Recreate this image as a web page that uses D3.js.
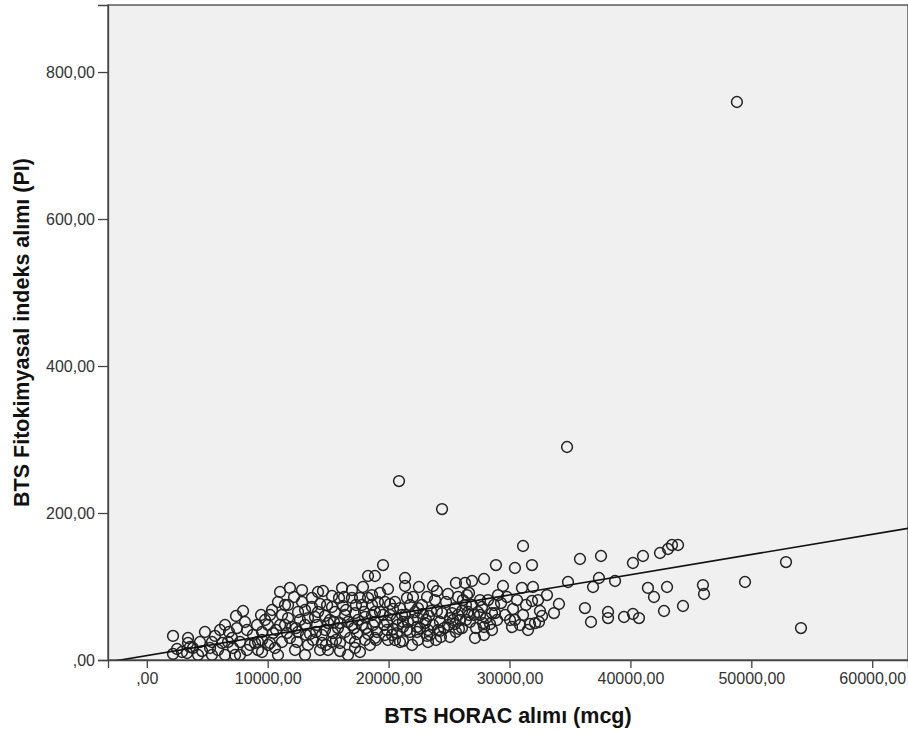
<!DOCTYPE html>
<html>
<head>
<meta charset="utf-8">
<script src="https://cdn.jsdelivr.net/npm/d3@7"></script>
<style>
  html, body { margin: 0; padding: 0; background: #ffffff; }
  svg { display: block; }
  text { font-family: Arial, "Liberation Sans", sans-serif; }
</style>
</head>
<body>
<svg id="chart" width="908" height="733"></svg>
<script>
// BTS HORAC intake (mcg) per participant
const horac = [
  2170, 2500, 2170, 2910, 3410, 3410, 3330, 3570, 3820, 4400,
  4570, 5230, 5390, 5890, 6060, 6220, 6470, 6720, 6800, 7130,
  7460, 7380, 7960, 7710, 7710, 8290, 8290, 8780, 8950, 9120,
  9450, 9530, 9530, 9200, 10020, 10190, 10440, 10600, 10850, 11020,
  11180, 11020, 11180, 11600, 11680, 11840, 12010, 12180, 12420, 12510,
  12510, 13090, 13090, 13330, 13500, 13660, 13660, 13910, 14080, 14330,
  14490, 14490, 14570, 14740, 14910, 14990, 14990, 15320, 15320, 15400,
  15570, 15900, 15980, 15980, 15980, 16310, 16390, 16390, 16970, 16970,
  16970, 17220, 17220, 17220, 17390, 17630, 17800, 17880, 18050, 18050,
  18300, 18300, 18300, 18870, 18630, 19540, 19290, 18630, 18630, 18870,
  18870, 19040, 18870, 19540, 19700, 19950, 20120, 20360, 19870, 19870,
  19950, 20360, 20530, 20690, 20690, 20940, 20860, 21360, 21360, 21520,
  21770, 21190, 21190, 21520, 21190, 22020, 22020, 22430, 22350, 22350,
  22430, 22510, 22840, 23180, 23010, 23260, 23180, 23340, 23510, 23420,
  23670, 24000, 24000, 24250, 24250, 24330, 24420, 24420, 24910, 25080,
  25240, 25330, 25490, 25570, 25740, 25820, 25910, 26070, 26070, 26320,
  26480, 26650, 26570, 26650, 26730, 26900, 27150, 27560, 27720, 27810,
  27890, 27890, 28550, 28390, 28880, 28800, 29050, 29300, 29460, 29790,
  30290, 30210, 30450, 30450, 30620, 31030, 31120, 31120, 31700, 31860,
  31860, 31940, 32110, 32440, 32520, 33100, 33680, 34090, 34760, 34840,
  35830, 36240, 36740, 36910, 37400, 37570, 38150, 38150, 38730, 39470,
  40210, 41040, 42450, 43110, 43440, 43940, 41450, 41950, 43030, 46000,
  46090, 49480, 52870, 54110, 40210, 40710, 42780, 44350, 48810,
  4810, 5640, 6470, 7050, 8120, 8540, 9200, 7300, 5390, 4240,
  9780, 10360, 11430, 10030, 10850, 11840, 12260, 11430, 12670, 10190,
  12840, 13330, 14160, 13750, 14330, 14740, 15150, 15650, 15810, 13090,
  16230, 16640, 16810, 17470, 17800, 18130, 18460, 18710, 19120, 17630,
  16640, 19290, 19700, 20120, 20530, 20940, 21360, 21770, 22180, 22600,
  20780, 21940, 22760, 23090, 23670, 23920, 24580, 24750, 25080, 25490,
  25740, 23840, 26150, 26400, 26900, 27230, 27390, 28060, 28220, 28550,
  28970, 27560, 29630, 30040, 30870, 31360, 32360, 32690, 31530,
  9530, 10690, 12340, 13170, 14000, 14820, 15480, 16480, 17140, 17970,
  18960, 19620, 20280, 21110, 21600, 22430, 23260, 24090, 24910, 25570,
  26400, 27060, 27890, 28720, 17300, 15320, 12840, 11680, 14160, 16150
];

// BTS phytochemical index (PI) intake, same order
const phyto = [
  32.7, 15.0, 8.2, 10.9, 29.9, 23.1, 9.5, 17.7, 16.3, 24.5,
  12.2, 16.3, 24.5, 13.6, 40.8, 23.1, 6.8, 24.5, 38.1, 16.3,
  43.5, 59.9, 66.7, 24.5, 6.8, 40.8, 13.6, 34.0, 23.1, 47.6,
  61.2, 38.1, 10.9, 24.5, 47.6, 23.1, 36.7, 16.3, 78.9, 92.5,
  61.2, 47.6, 24.5, 36.7, 57.1, 98.0, 44.9, 85.7, 24.5, 65.3,
  38.1, 68.0, 47.6, 20.4, 35.4, 84.4, 72.1, 58.5, 47.6, 76.2,
  34.0, 23.1, 93.9, 59.9, 74.8, 50.3, 13.6, 72.1, 24.5, 36.7,
  65.3, 84.4, 50.3, 23.1, 12.2, 85.7, 61.2, 38.1, 95.2, 84.4,
  47.6, 63.9, 24.5, 16.3, 35.4, 84.4, 47.6, 99.3, 58.5, 27.2,
  114.3, 84.4, 35.4, 114.3, 61.2, 129.2, 91.2, 88.4, 74.8, 65.3,
  51.7, 38.1, 29.9, 61.2, 78.9, 96.6, 76.2, 69.4, 51.7, 40.8,
  27.2, 42.2, 78.9, 55.8, 36.7, 24.5, 243.5, 111.6, 100.7, 84.4,
  74.8, 51.7, 44.9, 40.8, 25.8, 85.7, 54.4, 70.7, 44.9, 38.1,
  27.2, 99.3, 62.6, 85.7, 50.3, 40.8, 32.7, 59.9, 66.7, 34.0,
  100.7, 93.9, 66.7, 51.7, 39.5, 31.3, 63.9, 205.4, 89.8, 57.1,
  63.9, 54.4, 49.0, 104.8, 85.7, 42.2, 54.4, 66.7, 43.5, 104.8,
  88.4, 91.2, 65.3, 61.2, 51.7, 107.5, 29.9, 61.2, 72.1, 50.3,
  44.9, 110.2, 63.9, 49.0, 129.2, 63.9, 88.4, 77.5, 100.7, 85.7,
  69.4, 44.9, 125.2, 54.4, 81.6, 98.0, 155.1, 61.2, 49.0, 129.2,
  80.3, 99.3, 50.3, 51.7, 66.7, 88.4, 63.9, 76.2, 289.8, 106.1,
  137.4, 70.7, 51.7, 99.3, 111.6, 141.5, 65.3, 57.1, 107.5, 58.5,
  132.0, 141.5, 145.6, 151.0, 156.5, 156.5, 98.0, 85.7, 99.3, 102.0,
  89.8, 106.1, 133.3, 43.5, 62.6, 57.1, 66.7, 73.5, 759.2,
  38.1, 32.7, 47.6, 29.9, 51.7, 20.4, 13.6, 6.8, 6.8, 6.8,
  54.4, 68.0, 74.8, 20.4, 6.8, 29.9, 13.6, 47.6, 54.4, 61.2,
  78.9, 57.1, 65.3, 27.2, 13.6, 40.8, 54.4, 27.2, 43.5, 6.8,
  73.5, 51.7, 29.9, 54.4, 74.8, 43.5, 20.4, 47.6, 78.9, 10.9,
  6.8, 65.3, 34.0, 61.2, 27.2, 70.7, 61.2, 38.1, 65.3, 43.5,
  47.6, 20.4, 74.8, 54.4, 47.6, 27.2, 43.5, 78.9, 31.3, 70.7,
  61.2, 81.6, 81.6, 54.4, 74.8, 43.5, 65.3, 57.1, 81.6, 40.8,
  54.4, 81.6, 61.2, 54.4, 47.6, 74.8, 81.6, 59.9, 40.8,
  27.2, 40.8, 43.5, 34.0, 38.1, 20.4, 51.7, 68.0, 43.5, 65.3,
  27.2, 47.6, 34.0, 61.2, 51.7, 57.1, 24.5, 40.8, 47.6, 38.1,
  74.8, 61.2, 34.0, 74.8, 74.8, 87.1, 95.2, 74.8, 92.5, 98.0
];

// Linear fit line: PI = intercept + slope * HORAC
const fitIntercept = 6.0;
const fitSlope = 0.00275;

const xTicks = [0, 10000, 20000, 30000, 40000, 50000, 60000];
const yTicks = [0, 200, 400, 600, 800];

const xTitle = "BTS HORAC alımı (mcg)";
const yTitle = "BTS Fitokimyasal indeks alımı (PI)";

// comma decimal separator, with a bare ",00" for zero
const fmt = v => (v === 0 ? "" : String(v)) + ",00";

const svg = d3.select("#chart");
const plot = { left: 108, top: 5, right: 908, bottom: 660 };

const x = d3.scaleLinear().domain([-3209, 62961]).range([plot.left, plot.right]);
const y = d3.scaleLinear().domain([0, 891.2]).range([plot.bottom, plot.top]);

svg.append("defs").append("clipPath").attr("id", "plotClip")
  .append("rect")
  .attr("x", plot.left).attr("y", plot.top)
  .attr("width", plot.right - plot.left).attr("height", plot.bottom - plot.top);

// plot background and frame
svg.append("rect")
  .attr("x", plot.left).attr("y", plot.top)
  .attr("width", plot.right - plot.left).attr("height", plot.bottom - plot.top)
  .attr("fill", "#f0f0f0")
  .attr("stroke", "#444")
  .attr("stroke-width", 1.3);

// points
const pts = horac.map((h, i) => ({ h, p: phyto[i] }));
svg.append("g").attr("clip-path", "url(#plotClip)")
  .selectAll("circle").data(pts).join("circle")
  .attr("cx", d => x(d.h))
  .attr("cy", d => y(d.p))
  .attr("r", 5.4)
  .attr("fill", "none")
  .attr("stroke", "#222")
  .attr("stroke-width", 1.5);

// fit line
const [x0, x1] = x.domain();
svg.append("line")
  .attr("clip-path", "url(#plotClip)")
  .attr("x1", x(x0)).attr("y1", y(fitIntercept + fitSlope * x0))
  .attr("x2", x(x1)).attr("y2", y(fitIntercept + fitSlope * x1))
  .attr("stroke", "#111")
  .attr("stroke-width", 1.6);

// axes
const xAxis = svg.append("g")
  .attr("transform", `translate(0,${plot.bottom})`)
  .call(d3.axisBottom(x).tickValues(xTicks).tickFormat(fmt).tickSize(8).tickPadding(5));
const yAxis = svg.append("g")
  .attr("transform", `translate(${plot.left},0)`)
  .call(d3.axisLeft(y).tickValues(yTicks).tickFormat(fmt).tickSize(10).tickPadding(3));

[xAxis, yAxis].forEach(g => {
  g.select(".domain").attr("stroke", "#444").attr("stroke-width", 1.3);
  g.selectAll(".tick line").attr("stroke", "#444").attr("stroke-width", 1.3);
  g.selectAll(".tick text")
    .attr("fill", "#333")
    .style("font-size", "16px")
    .style("font-family", "Arial, 'Liberation Sans', sans-serif");
});

// axis titles
svg.append("text")
  .attr("x", (plot.left + plot.right) / 2)
  .attr("y", 723)
  .attr("text-anchor", "middle")
  .attr("fill", "#111")
  .style("font-size", "21.5px")
  .style("font-weight", "bold")
  .text(xTitle);

svg.append("text")
  .attr("transform", `translate(29,${(plot.top + plot.bottom) / 2}) rotate(-90)`)
  .attr("text-anchor", "middle")
  .attr("fill", "#111")
  .style("font-size", "21.5px")
  .style("font-weight", "bold")
  .text(yTitle);
</script>
</body>
</html>
